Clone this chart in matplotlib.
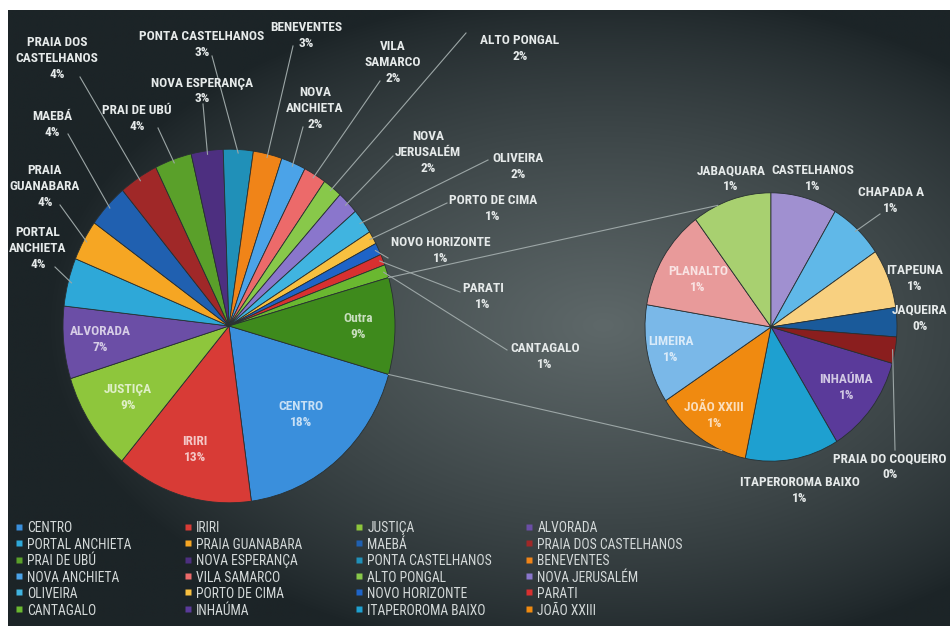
import numpy as np
import matplotlib
matplotlib.use("Agg")
import matplotlib.pyplot as plt
from matplotlib.lines import Line2D
from matplotlib import colors as mcolors

# ---------------- data ----------------
main_labels = ["CENTRO", "IRIRI", "JUSTIÇA", "ALVORADA", "PORTAL ANCHIETA",
               "PRAIA GUANABARA", "MAEBÁ", "PRAIA DOS CASTELHANOS", "PRAI DE UBÚ",
               "NOVA ESPERANÇA", "PONTA CASTELHANOS", "BENEVENTES", "NOVA ANCHIETA",
               "VILA SAMARCO", "ALTO PONGAL", "NOVA JERUSALÉM", "OLIVEIRA",
               "PORTO DE CIMA", "NOVO HORIZONTE", "PARATI", "CANTAGALO"]
main_values = [18.4, 13.3, 9.0, 6.6, 4.4, 3.7, 4.0, 3.8, 3.6, 3.1, 2.9, 2.8, 2.4,
               2.2, 1.9, 2.1, 2.3, 1.2, 1.1, 1.0, 1.2]
main_colors = ["#3a8fdc", "#d83b36", "#8ec63c", "#6b4ea6", "#2ea8d8", "#f6a623",
               "#2060b0", "#a02828", "#5aa02a", "#4d2f80", "#2090b8", "#f08418",
               "#4ba3e8", "#ec6a6a", "#88c84a", "#8a76cc", "#40b4e0", "#f8c040",
               "#1e64c8", "#d83030", "#6ab830"]

other_label = "Outra"
other_color = "#3e8a1c"
sub_labels = ["INHAÚMA", "ITAPEROROMA BAIXO", "JOÃO XXIII", "LIMEIRA", "PLANALTO",
              "JABAQUARA", "CASTELHANOS", "CHAPADA A", "ITAPEUNA", "JAQUEIRA",
              "PRAIA DO COQUEIRO"]
sub_values = [1.05, 1.06, 1.10, 1.05, 1.07, 0.90, 0.75, 0.62, 0.63, 0.31, 0.28]
sub_colors = ["#5a3a9a", "#1ea0d0", "#f08a10", "#7ab8e8", "#e89a9a", "#a8d070",
              "#a090d0", "#60b8e8", "#f8d080", "#1a5a9a", "#8a1e1e"]

# ---------------- layout ----------------
W, H = 950, 626
S = 1.065                      # vertical stretch of the picture
MAIN_C, MAIN_R = (229, 326), 166
SUB_C, SUB_R = (771, 327), 126
FONT = ["Roboto Condensed", "Liberation Sans Narrow", "Lato", "DejaVu Sans"]
FS = 9.6
TXT = "#e6eaea"
LINE = "#9ca6a6"

# inner labels: name -> radial fraction
main_inner = {"CENTRO": 0.66, "IRIRI": 0.73, "JUSTIÇA": 0.73, "ALVORADA": 0.78, "Outra": 0.78}
sub_inner = {"INHAÚMA": 0.75, "JOÃO XXIII": 0.8, "LIMEIRA": 0.81, "PLANALTO": 0.68}
# outer labels: name -> (text centre px, text, leader end px or None)
main_outer = {
    "PRAIA DOS CASTELHANOS": ((57, 58), "PRAIA DOS\nCASTELHANOS", (80, 77)),
    "MAEBÁ": ((52, 124), "MAEBÁ", (68, 134)),
    "PRAIA GUANABARA": ((45, 186), "PRAIA\nGUANABARA", (60, 205)),
    "PORTAL ANCHIETA": ((38, 248), "PORTAL\nANCHIETA", (55, 267)),
    "PRAI DE UBÚ": ((137, 119), "PRAI DE UBÚ", (158, 128)),
    "NOVA ESPERANÇA": ((202, 91), "NOVA ESPERANÇA", (203, 104)),
    "PONTA CASTELHANOS": ((202, 44), "PONTA CASTELHANOS", (212, 56)),
    "BENEVENTES": ((306, 36), "BENEVENTES", (293, 46)),
    "NOVA ANCHIETA": ((315, 108), "NOVA\nANCHIETA", (303, 127)),
    "VILA SAMARCO": ((393, 62), "VILA\nSAMARCO", (380, 81)),
    "ALTO PONGAL": ((520, 49), "ALTO PONGAL", (466, 33)),
    "NOVA JERUSALÉM": ((428, 152), "NOVA\nJERUSALÉM", (393, 156)),
    "OLIVEIRA": ((518, 166), "OLIVEIRA", (488, 160)),
    "PORTO DE CIMA": ((493, 209), "PORTO DE CIMA", (447, 203)),
    "NOVO HORIZONTE": ((441, 250), "NOVO HORIZONTE", (388, 258)),
    "PARATI": ((483, 296), "PARATI", (460, 292)),
    "CANTAGALO": ((545, 356), "CANTAGALO", (507, 350)),
}
sub_outer = {
    "JABAQUARA": ((731, 179), "JABAQUARA", None),
    "CASTELHANOS": ((813, 179), "CASTELHANOS", None),
    "CHAPADA A": ((891, 200), "CHAPADA A", (880, 214)),
    "ITAPEUNA": ((915, 279), "ITAPEUNA", None),
    "JAQUEIRA": ((920, 318), "JAQUEIRA", None),
    "PRAIA DO COQUEIRO": ((890, 467), "PRAIA DO COQUEIRO", (895, 450)),
    "ITAPEROROMA BAIXO": ((800, 491), "ITAPEROROMA BAIXO", None),
}


def P(x, y):
    return (x, (H - y) / S)


fig = plt.figure(figsize=(W / 100, H / 100), dpi=100, facecolor="white")

# background panel with soft radial gradient
bg = fig.add_axes([8 / W, 0, 1 - 8 / W, 1 - 10 / H])
yy, xx = np.mgrid[0:H, 0:W].astype(float)
d = np.sqrt(((xx - 600) / 560) ** 2 + ((yy - 320) / 340) ** 2)
wgt = np.clip(1 - d, 0, 1) ** 0.8
dark = np.array(mcolors.to_rgb("#1c2427"))
light = np.array(mcolors.to_rgb("#5e6869"))
img = dark[None, None, :] * (1 - wgt[..., None]) + light[None, None, :] * wgt[..., None]
bg.imshow(img, aspect="auto", extent=(0, 1, 0, 1), interpolation="bilinear")
bg.axis("off")

ax = fig.add_axes([0, 0, 1, 1])
ax.patch.set_alpha(0)

wprops = dict(edgecolor="#283032", linewidth=0.6)
outra_value = sum(sub_values)
vals = main_values + [outra_value]
start = -180.0 * outra_value / sum(vals)
mw, _ = ax.pie(vals, colors=main_colors + [other_color], center=P(*MAIN_C),
               radius=MAIN_R, startangle=start, counterclock=False,
               wedgeprops=wprops, frame=True)
sw, _ = ax.pie(sub_values, colors=sub_colors, center=P(*SUB_C), radius=SUB_R,
               startangle=-15.7, counterclock=False, wedgeprops=wprops,
               frame=True)

ax.set_aspect("auto")
ax.set_autoscale_on(False)
ax.set_xlim(0, W)
ax.set_ylim(0, H / S)
ax.axis("off")


def edge_point(w, frac=1.0):
    t = np.deg2rad((w.theta1 + w.theta2) / 2)
    cx, cy = w.center
    return cx + frac * w.r * np.cos(t), cy + frac * w.r * np.sin(t)


def tint(c, a=0.72):
    c = np.array(mcolors.to_rgb(c))
    return tuple(c * (1 - a) + a)


def put_labels(wedges, names, values, cols, inner, outer):
    for w, name, v, col in zip(wedges, names, values, cols):
        pct = f"{100 * v / total:.0f}%"
        if name in inner:
            x, y = edge_point(w, inner[name])
            ax.text(x, y, f"{name}\n{pct}", ha="center", va="center", color=tint(col),
                    fontsize=FS, fontweight="bold", family=FONT, linespacing=1.3)
        elif name in outer:
            (tx, ty), txt, end = outer[name]
            ax.text(*P(tx, ty), f"{txt}\n{pct}", ha="center", va="center", color=TXT,
                    fontsize=FS, fontweight="bold", family=FONT, linespacing=1.3)
            if end is not None:
                x0, y0 = edge_point(w, 0.98)
                ex, ey = P(*end)
                ax.plot([x0, ex], [y0, ey], color=LINE, lw=0.8)


all_main_names = main_labels + [other_label]
total = sum(vals)
put_labels(mw, all_main_names, vals, main_colors + [other_color], main_inner, main_outer)
put_labels(sw, sub_labels, sub_values, sub_colors, sub_inner, sub_outer)

# connector lines between the "Outra" slice and the secondary pie
ow = mw[-1]
cx, cy = ow.center
scx, scy = sw[0].center
for th_main, th_sub in ((ow.theta2, 115.0), (ow.theta1, -113.0)):
    a, b = np.deg2rad(th_main), np.deg2rad(th_sub)
    ax.plot([cx + MAIN_R * np.cos(a), scx + SUB_R * np.cos(b)],
            [cy + MAIN_R * np.sin(a), scy + SUB_R * np.sin(b)], color=LINE, lw=0.8)

# legend: 4 columns, row-major order, as in the original
leg_names = all_main_names[:-1] + sub_labels
leg_cols = main_colors + sub_colors
col_x = [15, 184, 355, 525]
LFS = 9.8
for c in range(4):
    idx = list(range(c, 24, 4))
    handles = [Line2D([], [], marker="s", linestyle="none", markersize=5,
                      markerfacecolor=leg_cols[i], markeredgecolor="none") for i in idx]
    lg = fig.legend(handles, [leg_names[i] for i in idx], loc="upper left",
                    bbox_to_anchor=(col_x[c] / W, 1 - 521 / H), frameon=False,
                    handlelength=0.55, handleheight=1.16,
                    handletextpad=0.35, labelspacing=0.15, borderpad=0,
                    borderaxespad=0, prop={"family": FONT, "size": LFS})
    for t in lg.get_texts():
        t.set_color("#d4d9d9")

fig.savefig("out.png", dpi=100, facecolor="white")
